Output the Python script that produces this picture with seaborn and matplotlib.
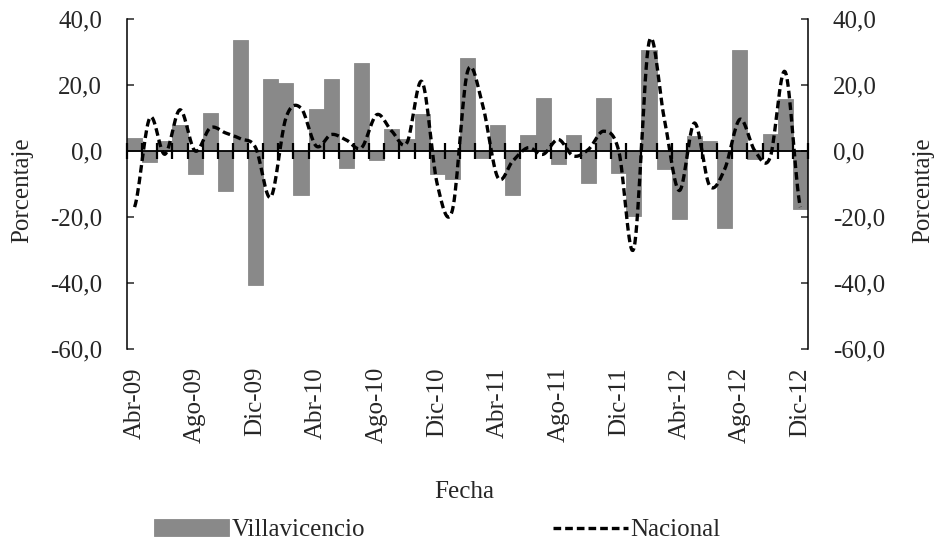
import matplotlib
matplotlib.use('Agg')
import matplotlib.pyplot as plt
import numpy as np
import pandas as pd
import seaborn as sns
from matplotlib.ticker import FuncFormatter, FixedLocator

meses = ['Abr-09', 'May-09', 'Jun-09', 'Jul-09', 'Ago-09', 'Sep-09', 'Oct-09', 'Nov-09', 'Dic-09',
         'Ene-10', 'Feb-10', 'Mar-10', 'Abr-10', 'May-10', 'Jun-10', 'Jul-10', 'Ago-10', 'Sep-10',
         'Oct-10', 'Nov-10', 'Dic-10', 'Ene-11', 'Feb-11', 'Mar-11', 'Abr-11', 'May-11', 'Jun-11',
         'Jul-11', 'Ago-11', 'Sep-11', 'Oct-11', 'Nov-11', 'Dic-11', 'Ene-12', 'Feb-12', 'Mar-12',
         'Abr-12', 'May-12', 'Jun-12', 'Jul-12', 'Ago-12', 'Sep-12', 'Oct-12', 'Nov-12', 'Dic-12']

villavicencio = [4.0, -3.3, 3.0, 8.0, -7.0, 11.6, -12.0, 33.5, -40.7,
                 21.7, 20.5, -13.3, 12.6, 21.7, -5.3, 26.6, -2.7, 6.6,
                 3.5, 11.1, -7.0, -8.6, 28.3, -2.2, 8.0, -13.3, 4.8,
                 16.2, -4.0, 4.8, -9.6, 16.2, -6.6, -19.7, 30.6, -5.4,
                 -20.7, 4.5, 3.0, -23.2, 30.5, -2.3, 5.0, 15.7, -17.7]

nacional = [-17.0, 10.0, -1.0, 12.5, 0.0, 7.0, 5.5, 3.7, 1.0,
            -14.0, 10.0, 13.0, 1.5, 5.0, 3.3, 1.0, 11.0, 6.0,
            2.5, 21.0, -10.0, -18.0, 24.0, 14.0, -8.0, -3.0, 1.0,
            -1.0, 3.5, -1.5, 0.5, 6.0, 0.0, -29.5, 33.0, 10.0,
            -12.0, 8.5, -10.5, -5.5, 9.6, 0.0, -2.0, 24.0, -17.0]

etiquetas_x = meses[::4]
ticks_y = [-60, -40, -20, 0, 20, 40]

GRIS = '#898989'


def suavizar(y, n=16):
    # curva suavizada tipo Excel (Catmull-Rom) entre los puntos
    y = np.asarray(y, dtype=float)
    p = np.concatenate([[y[0]], y, [y[-1]]])
    t = np.linspace(0, 1, n, endpoint=False)
    xs, ys = [], []
    for i in range(len(y) - 1):
        p0, p1, p2, p3 = p[i], p[i + 1], p[i + 2], p[i + 3]
        m1 = (p2 - p0) / 2
        m2 = (p3 - p1) / 2
        h00 = 2 * t**3 - 3 * t**2 + 1
        h10 = t**3 - 2 * t**2 + t
        h01 = -2 * t**3 + 3 * t**2
        h11 = t**3 - t**2
        xs.append(i + t)
        ys.append(h00 * p1 + h10 * m1 + h01 * p2 + h11 * m2)
    xs.append([len(y) - 1])
    ys.append([y[-1]])
    return np.concatenate(xs), np.concatenate(ys)


sns.set_style('white')
plt.rcParams['font.family'] = ['Liberation Serif', 'DejaVu Serif']
plt.rcParams['axes.edgecolor'] = 'black'
plt.rcParams['xtick.bottom'] = True

fig, ax = plt.subplots(figsize=(9.34, 5.42), dpi=100)
fig.subplots_adjust(left=0.136, right=0.865, top=0.965, bottom=0.356)

df = pd.DataFrame({'Fecha': meses, 'Villavicencio': villavicencio})
sns.barplot(data=df, x='Fecha', y='Villavicencio', color=GRIS, saturation=1, width=1,
            errorbar=None, edgecolor=GRIS, linewidth=0.6, label='Villavicencio', ax=ax)

ax2 = ax.twinx()
xs, ys = suavizar(nacional)
sns.lineplot(x=xs, y=ys, color='black', linewidth=2.4, linestyle=(0, (2.3, 1.2)),
             sort=False, estimator=None, label='Nacional', ax=ax2)

fmt = FuncFormatter(lambda v, p: f'{v:.1f}'.replace('.', ','))
for a in (ax, ax2):
    a.set_ylim(-60, 40)
    a.set_yticks(ticks_y)
    a.yaxis.set_major_formatter(fmt)
    for s in a.spines.values():
        s.set_visible(False)
    if a.get_legend() is not None:
        a.get_legend().remove()

ax.spines['left'].set_visible(True)
ax.spines['left'].set_linewidth(1.1)
ax2.spines['right'].set_visible(True)
ax2.spines['right'].set_linewidth(1.1)

ax.tick_params(axis='y', direction='in', length=5, width=1.1, pad=18, labelsize=18,
               left=True, labelleft=True)
ax2.tick_params(axis='y', direction='in', length=5, width=1.1, pad=18, labelsize=18,
                right=True, labelright=True)

# etiquetas cada 4 meses abajo; limites de categoria como ticks menores
ax.set_xlim(-0.5, len(meses) - 0.5)
ax.set_xticks(range(0, len(meses), 4))
ax.set_xticklabels(etiquetas_x, rotation=90)
ax.xaxis.set_minor_locator(FixedLocator(np.arange(len(meses) + 1) - 0.5))
ax.tick_params(axis='x', which='both', length=0, pad=13, labelsize=18)

# eje de categorias sobre el cero con marcas cruzadas (en el eje gemelo)
ax2.xaxis.set_visible(True)
ax2.spines['bottom'].set_visible(True)
ax2.spines['bottom'].set_position(('data', 0))
ax2.spines['bottom'].set_linewidth(1.3)
ax2.xaxis.set_ticks_position('bottom')
ax2.tick_params(axis='x', which='major', length=0, labelbottom=False, labeltop=False)
ax2.tick_params(axis='x', which='minor', bottom=True, direction='inout',
                length=11, width=1.6, color='black')
ax2.set_xlabel('')

ax.set_xlabel('Fecha', fontsize=18)
ax.xaxis.set_label_coords(0.495, -0.40)
ax.set_ylabel('Porcentaje', fontsize=18)
ax.yaxis.set_label_coords(-0.138, 0.48)
ax2.set_ylabel('Porcentaje', fontsize=18)
ax2.yaxis.set_label_coords(1.153, 0.48)

h1, l1 = ax.get_legend_handles_labels()
h2, l2 = ax2.get_legend_handles_labels()
fig.legend(h1 + h2, l1 + l2, loc='center', bbox_to_anchor=(0.468, 0.022), ncol=2,
           frameon=False, fontsize=18, handlelength=3.0, handleheight=0.7,
           handletextpad=0.1, columnspacing=7.5, borderaxespad=0)

fig.savefig('out.png', dpi=100)
